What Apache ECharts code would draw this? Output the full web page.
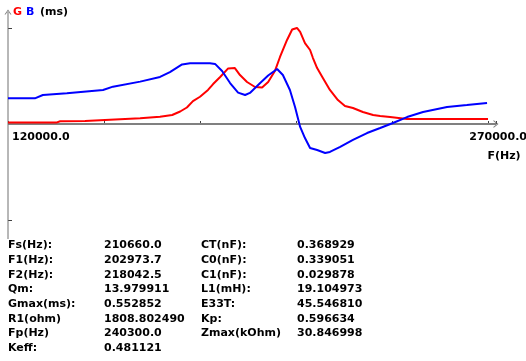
<!DOCTYPE html>
<html><head><meta charset="utf-8">
<script src="https://cdn.jsdelivr.net/npm/echarts@6/dist/echarts.min.js"></script>
<style>html,body{margin:0;padding:0;background:#fff}#c{width:526px;height:361px}</style>
</head><body><div id="c"></div>
<script>
// ---- data ----
const gFreq = [120000,135300,136300,144100,150300,161300,167500,171300,173800,175900,177800,180000,182500,184100,186300,188800,190900,192500,194700,197200,199400,201300,203400,205000,207200,208800,210300,211300,212800,214400,215300,216600,218400,220600,223100,225300,227800,230900,234100,236300,239400,244700,270000];
const gValues = [0.008,0.009,0.016,0.017,0.023,0.033,0.042,0.052,0.072,0.095,0.132,0.157,0.196,0.230,0.271,0.320,0.322,0.282,0.242,0.213,0.210,0.242,0.305,0.386,0.484,0.544,0.553,0.530,0.466,0.426,0.380,0.322,0.265,0.196,0.138,0.104,0.092,0.069,0.052,0.046,0.040,0.029,0.029];
const bFreq = [120000,128400,130900,138400,149700,152800,161300,167500,170600,174400,176900,183100,184700,186900,189400,191900,194100,195600,198800,201300,204100,205900,208100,209700,211300,212800,214400,216600,219100,220600,223800,227800,232200,236300,240300,244700,249700,257200,263400,269700];
const bValues = [0.148,0.148,0.167,0.177,0.196,0.215,0.244,0.271,0.299,0.343,0.350,0.350,0.346,0.305,0.236,0.181,0.167,0.179,0.236,0.279,0.317,0.282,0.196,0.098,-0.017,-0.081,-0.138,-0.150,-0.167,-0.161,-0.132,-0.092,-0.052,-0.023,0.006,0.040,0.069,0.098,0.109,0.121];
const xMin = 120000, xStep = 30000, xLast = 270000;
const xEndLabels = ['120000.0','270000.0'];
const gMax = 0.552852;
const tableLabels1 = ['Fs(Hz):','F1(Hz):','F2(Hz):','Qm:','Gmax(ms):','R1(ohm)','Fp(Hz)','Keff:'];
const tableValues1 = ['210660.0','202973.7','218042.5','13.979911','0.552852','1808.802490','240300.0','0.481121'];
const tableLabels2 = ['CT(nF):','C0(nF):','C1(nF):','L1(mH):','E33T:','Kp:','Zmax(kOhm)'];
const tableValues2 = ['0.368929','0.339051','0.029878','19.104973','45.546810','0.596634','30.846998'];

const FONT = '"DejaVu Sans", sans-serif';
const AXIS = '#808080';
const chevUp = 'path://M0,10 L5,0 L10,10 L8.4,10 L5,3.2 L1.6,10 Z';
const chevRight = 'path://M0,0 L10,5 L0,10 L0,8.4 L6.8,5 L0,1.6 Z';
const chart = echarts.init(document.getElementById('c'), null, {renderer: 'canvas'});
const zip = (a, b) => a.map((v, i) => [v, b[i]]);
const xMax = 272500, yMax = gMax * 112 / 96, yMin = -gMax * 115 / 96;

chart.setOption({
  animation: false,
  grid: {left: 8, right: 30, top: 12, bottom: 122, containLabel: false},
  xAxis: {
    type: 'value', min: xMin, max: xMax, interval: xStep,
    axisLine: {show: false},
    axisTick: {show: true, inside: true, length: 3, lineStyle: {color: '#404040', width: 1}},
    axisLabel: {show: false}, splitLine: {show: false}
  },
  yAxis: {
    type: 'value', min: yMin, max: yMax,
    axisLine: {show: false},
    axisTick: {show: true, inside: true, length: 4, customValues: [-gMax, gMax], lineStyle: {color: '#404040', width: 1}},
    axisLabel: {show: false}, splitLine: {show: false}
  },
  series: [
    // axis lines drawn through the scales
    {type: 'line', data: [[xMin, 0], [xMax, 0]], showSymbol: false, silent: true,
      lineStyle: {color: AXIS, width: 2}, z: 1},
    {type: 'line', data: [[xMin, yMin], [xMin, yMax]], showSymbol: false, silent: true,
      lineStyle: {color: '#707070', width: 1}, z: 1},
    // open arrowheads at the axis ends
    {type: 'scatter', data: [[xMax, 0]], symbol: chevRight, symbolSize: [5, 8], silent: true,
      itemStyle: {color: '#606060'}, z: 1},
    {type: 'scatter', data: [[xMin, yMax]], symbol: chevUp, symbolSize: [7, 5], silent: true,
      itemStyle: {color: '#606060'}, z: 1},
    {type: 'line', data: zip(gFreq, gValues), showSymbol: false,
      lineStyle: {color: '#ff0000', width: 2}, z: 3},
    {type: 'line', data: zip(bFreq, bValues), showSymbol: false,
      lineStyle: {color: '#0000ff', width: 2}, z: 4}
  ]
});

const p0 = chart.convertToPixel({gridIndex: 0}, [xMin, 0]);
const p1 = chart.convertToPixel({gridIndex: 0}, [xLast, 0]);
const txt = (x, y, s, align, color) => ({type: 'text', x: x, y: y, z: 50,
  style: {text: s, font: 'bold 11px ' + FONT, fill: color || '#000', align: align || 'left', verticalAlign: 'middle'}});
const g = [];
g.push(txt(p0[0] + 4, p0[1] + 13, xEndLabels[0]));
g.push(txt(p1[0] + 39, p1[1] + 13, xEndLabels[1], 'right'));
g.push(txt(p1[0] + 16, p1[1] + 32, 'F(Hz)', 'center'));
g.push(txt(13, 12, 'G', 'left', '#ff0000'));
g.push(txt(26, 12, 'B', 'left', '#0000ff'));
g.push(txt(40, 12, '(ms)'));
const cols = [8, 104, 201, 297];
const rowY0 = 245.5, rowH = 14.65;
tableLabels1.forEach((s, i) => g.push(txt(cols[0], rowY0 + i * rowH, s)));
tableValues1.forEach((s, i) => g.push(txt(cols[1], rowY0 + i * rowH, s)));
tableLabels2.forEach((s, i) => g.push(txt(cols[2], rowY0 + i * rowH, s)));
tableValues2.forEach((s, i) => g.push(txt(cols[3], rowY0 + i * rowH, s)));
chart.setOption({graphic: g});
</script></body></html>
